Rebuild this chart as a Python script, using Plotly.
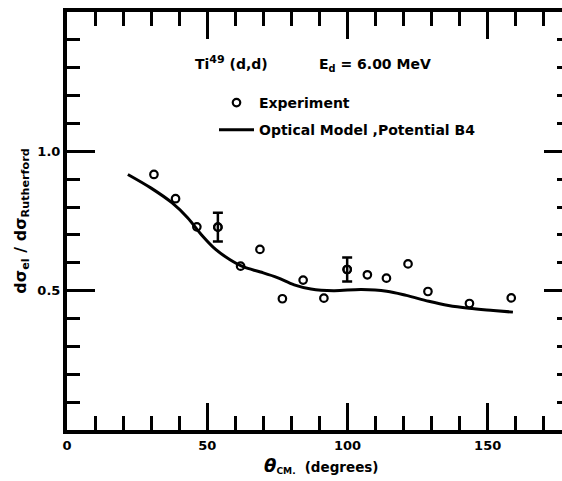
import plotly.graph_objects as go

# Experimental points (theta_CM in degrees, ratio to Rutherford)
exp_theta = [31.0, 38.7, 46.3, 53.8, 61.9, 68.8, 76.8, 84.2, 91.6, 99.9,
             107.1, 113.9, 121.6, 128.7, 143.5, 158.4]
exp_ratio = [0.917, 0.830, 0.729, 0.728, 0.588, 0.648, 0.471, 0.538, 0.473, 0.576,
             0.557, 0.545, 0.596, 0.497, 0.454, 0.474]

# Points that carry an error bar
err_theta = [53.8, 99.9]
err_ratio = [0.728, 0.576]
err_size = [0.052, 0.043]

# Optical model curve (Potential B4)
om_theta = [21.7, 30.0, 37.5, 43.0, 48.0, 53.0, 58.0, 63.0, 69.0, 75.0, 81.0,
            87.0, 95.0, 105.0, 114.0, 121.0, 129.0, 136.0, 143.3, 152.0, 159.0]
om_ratio = [0.917, 0.868, 0.815, 0.762, 0.700, 0.648, 0.612, 0.585, 0.567, 0.547, 0.521,
            0.506, 0.500, 0.504, 0.498, 0.483, 0.462, 0.447, 0.437, 0.429, 0.423]

x_ticks = [0, 50, 100, 150]
x_labels = ["0", "50", "100", "150"]
y_ticks = [0.5, 1.0]
y_labels = ["0.5", "1.0"]

FONT = "DejaVu Sans"
PLOT_L, PLOT_T, PLOT_W, PLOT_H = 67, 12, 495, 418

fig = go.Figure()
fig.add_trace(go.Scatter(
    x=exp_theta, y=exp_ratio, mode="markers", name="Experiment",
    legendgroup="a",
    marker=dict(symbol="circle-open", size=7.5, color="black", line=dict(width=2.2)),
))
fig.add_trace(go.Scatter(
    x=err_theta, y=err_ratio, mode="markers", name="Experiment", showlegend=False,
    legendgroup="a",
    marker=dict(symbol="circle-open", size=7.5, color="black", line=dict(width=2.2)),
    error_y=dict(type="data", array=err_size, visible=True, color="black",
                 thickness=2.5, width=5),
))
fig.add_trace(go.Scatter(
    x=om_theta, y=om_ratio, mode="lines", name="Optical Model ,Potential B4",
    legendgroup="b",
    line=dict(color="black", width=3, shape="spline", smoothing=1.0),
    yaxis="y2",
))

fig.update_layout(
    width=562, height=481,
    margin=dict(l=PLOT_L, r=0, t=PLOT_T, b=481 - PLOT_T - PLOT_H),
    paper_bgcolor="white", plot_bgcolor="white",
    font=dict(family=FONT, size=12, color="black", weight="bold"),
    showlegend=True,
    legend=dict(x=(214 - PLOT_L) / PLOT_W, y=1 - (87 - PLOT_T) / PLOT_H,
                xanchor="left", yanchor="top", itemwidth=35,
                bgcolor="rgba(0,0,0,0)", borderwidth=0, tracegroupgap=6,
                font=dict(family=FONT, size=14, weight="bold")),
    xaxis=dict(
        range=[0, 176.5], showgrid=False, zeroline=False,
        showline=True, linewidth=4, linecolor="black", mirror="ticks",
        ticks="inside", tickvals=x_ticks, ticktext=x_labels, ticklen=27, tickwidth=3,
        tickcolor="black",
        minor=dict(dtick=10, tick0=0, ticks="inside", ticklen=14, tickwidth=3, tickcolor="black"),
        tickfont=dict(family=FONT, size=13, weight="bold"),
        title=dict(text="&nbsp;&nbsp;&nbsp;<span style='font-size:18px'><i>θ</i></span><sub>CM.</sub>"
                        "  <span style='font-size:13.5px'>(degrees)</span>",
                   font=dict(family=FONT, size=13, weight="bold"), standoff=12),
    ),
    yaxis=dict(
        range=[0, 1.5], showgrid=False, zeroline=False,
        showline=True, linewidth=4, linecolor="black", mirror=False,
        ticks="inside", tickvals=y_ticks, ticktext=y_labels, ticklen=28, tickwidth=3,
        tickcolor="black",
        minor=dict(dtick=0.1, tick0=0, ticks="inside", ticklen=13, tickwidth=3, tickcolor="black"),
        tickfont=dict(family=FONT, size=13, weight="bold"),
        title=dict(text="dσ<sub>el</sub> / dσ<sub>Rutherford</sub>",
                   font=dict(family=FONT, size=16, weight="bold"), standoff=8),
    ),
    yaxis2=dict(
        range=[0, 1.5], overlaying="y", side="right", showgrid=False, zeroline=False,
        showline=False, showticklabels=False,
        ticks="inside", tickvals=y_ticks, ticklen=18, tickwidth=3, tickcolor="black",
        minor=dict(dtick=0.1, tick0=0, ticks="inside", ticklen=5, tickwidth=3, tickcolor="black"),
    ),
    annotations=[
        dict(x=58.8, y=1.318, xref="x", yref="y", xanchor="center", yanchor="middle",
             text="Ti<sup><span style='font-size:11px'>49</span></sup> (d,d)", showarrow=False,
             font=dict(family=FONT, size=14, weight="bold")),
        dict(x=109.8, y=1.31, xref="x", yref="y", xanchor="center", yanchor="middle",
             text="E<sub>d</sub> = 6.00 MeV", showarrow=False,
             font=dict(family=FONT, size=14, weight="bold")),
    ],
)

fig.write_html("out.html")
